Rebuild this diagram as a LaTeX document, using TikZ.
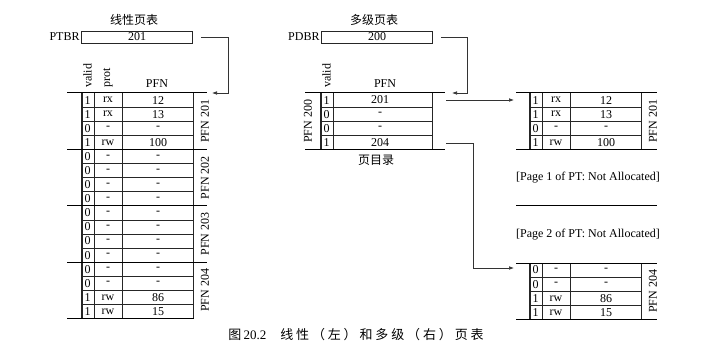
\documentclass[tikz,border=0pt]{standalone}
\usepackage{fontspec}
\setmainfont{Liberation Serif}
\newfontfamily\cjk{Noto Sans CJK SC}
\newfontfamily\cjkwide[LetterSpace=22]{Noto Sans CJK SC}
\usetikzlibrary{arrows.meta}

\newcommand\rh{14.1}

\tikzset{
  cell/.style={inner sep=0pt, font=\fontsize{12}{14}\selectfont},
  grid/.style={line width=0.5pt, draw=black!85},
  tablerule/.style={line width=1pt, draw=black},
  conn/.style={line width=0.6pt, draw=black!80, -{Latex[length=5pt,width=3.6pt]}},
  regbox/.style={draw=black!85, line width=0.5pt, minimum width=111pt, minimum height=12pt, inner sep=0pt, font=\fontsize{12}{14}\selectfont},
  hdr/.style={cell, rotate=90, anchor=west},
}

% #1 name, #2 x0, #3 y0, #4 label, #5 rows v/p/f
\newcommand\ptgroup[5]{%
  \foreach \v/\p/\f [count=\i] in {#5}{
    \node[cell] (#1-v\i) at ({#2+6.5},{#3+(\i-0.5)*\rh}) {\v};
    \node[cell] (#1-p\i) at ({#2+27},{#3+(\i-0.5)*\rh}) {\p};
    \node[cell] (#1-f\i) at ({#2+77},{#3+(\i-0.5)*\rh}) {\f};
  }
  \foreach \i in {1,2,3}{\draw[grid] (#2,{#3+\i*\rh}) -- ({#2+112.5},{#3+\i*\rh});}
  \foreach \dx in {0,13,41.5,112.5}{\draw[grid] ({#2+\dx},#3) -- ({#2+\dx},{#3+4*\rh});}
  \draw[grid] ({#2+1.3},#3) -- ({#2+1.3},{#3+4*\rh});
  \node[cell,rotate=90] (#1-lab) at ({#2+124},{#3+2*\rh}) {#4};
}

\begin{document}
\begin{tikzpicture}[x=1pt,y=-1pt]
\useasboundingbox (0,0) rectangle (703,355);

% ---------------- linear page table ----------------
\node[cell] (ltitle) at (134,20) {\cjk 线性页表};
\node[regbox] (ptbr) at (137,37) {201};
\node[cell, anchor=east, inner sep=1.5pt] (ptbrlab) at (ptbr.west) {PTBR};

\node[hdr] (lhv) at (87.5,88) {valid};
\node[hdr] (lhp) at (108,88) {prot};
\node[cell, anchor=base] (lhf) at (157,88) {PFN};

\ptgroup{la}{81}{93}{PFN 201}{1/rx/12,1/rx/13,0/-/-,1/rw/100}
\ptgroup{lb}{81}{149.4}{PFN 202}{0/-/-,0/-/-,0/-/-,0/-/-}
\ptgroup{lc}{81}{205.8}{PFN 203}{0/-/-,0/-/-,0/-/-,0/-/-}
\ptgroup{ld}{81}{262.2}{PFN 204}{0/-/-,0/-/-,1/rw/86,1/rw/15}
\foreach \yy in {93,149.4,205.8,262.2}{\draw[tablerule] (67,\yy) -- (207,\yy);}
\draw[tablerule] (67,318.6) -- (193.5,318.6);

\coordinate (lin) at (212,93);
\draw[conn] ([xshift=8]ptbr.east) -- ++(28,0) |- (lin);

% ---------------- multi-level page table ----------------
\node[cell] (mtitle) at (374,20) {\cjk 多级页表};
\node[regbox] (pdbr) at (377,37) {200};
\node[cell, anchor=east, inner sep=1.5pt] (pdbrlab) at (pdbr.west) {PDBR};

\node[hdr] (phv) at (326.5,88) {valid};
\node[cell, anchor=base] (phf) at (385,88) {PFN};

\foreach \v/\f [count=\i] in {1/201,0/-,0/-,1/204}{
  \node[cell] (pd-v\i) at (326.5,{93+(\i-0.5)*\rh}) {\v};
  \node[cell] (pd-f\i) at (380,{93+(\i-0.5)*\rh}) {\f};
}
\foreach \i in {1,2,3}{\draw[grid] (320,{93+\i*\rh}) -- (432,{93+\i*\rh});}
\foreach \xx in {320,321.3,333,432}{\draw[grid] (\xx,93) -- (\xx,{93+4*\rh});}
\draw[tablerule] (305,93) -- (445,93);
\draw[tablerule] (305,{93+4*\rh}) -- (445,{93+4*\rh});
\node[cell,rotate=90] (pdlab) at (308,{93+2*\rh}) {PFN 200};
\node[cell] (pdcap) at (376,160) {\cjk 页目录};

\coordinate (pdin) at (452,93);
\draw[conn] ([xshift=8]pdbr.east) -- ++(27,0) |- (pdin);

% page 1 of PT (PFN 201)
\ptgroup{ra}{529}{93}{PFN 201}{1/rx/12,1/rx/13,0/-/-,1/rw/100}
\draw[tablerule] (516,93) -- (657,93);
\draw[tablerule] (516,{93+4*\rh}) -- (657,{93+4*\rh});

\node[cell] (na1) at (588,178) {[Page 1 of PT: Not Allocated]};
\draw[tablerule] (516,206) -- (657,206);
\node[cell] (na2) at (588,235) {[Page 2 of PT: Not Allocated]};

% page 3 of PT (PFN 204)
\ptgroup{rd}{529}{263}{PFN 204}{0/-/-,0/-/-,1/rw/86,1/rw/15}
\draw[tablerule] (516,263) -- (657,263);
\draw[tablerule] (516,{263+4*\rh}) -- (657,{263+4*\rh});

\coordinate (pd1out) at (446,100);
\coordinate (ra-in) at (514,100);
\draw[conn] (pd1out) -- (ra-in);
\coordinate (pd4out) at (446,143);
\coordinate (rd-in) at (514,268);
\draw[conn] (pd4out) -- ++(27,0) |- (rd-in);

% caption
\node[cell, font=\fontsize{13}{15}\selectfont] (cap) at (356,335) {{\cjk 图}\,20.2\hspace{14pt}{\cjkwide 线性（左）和多级（右）页表}};
\end{tikzpicture}
\end{document}
